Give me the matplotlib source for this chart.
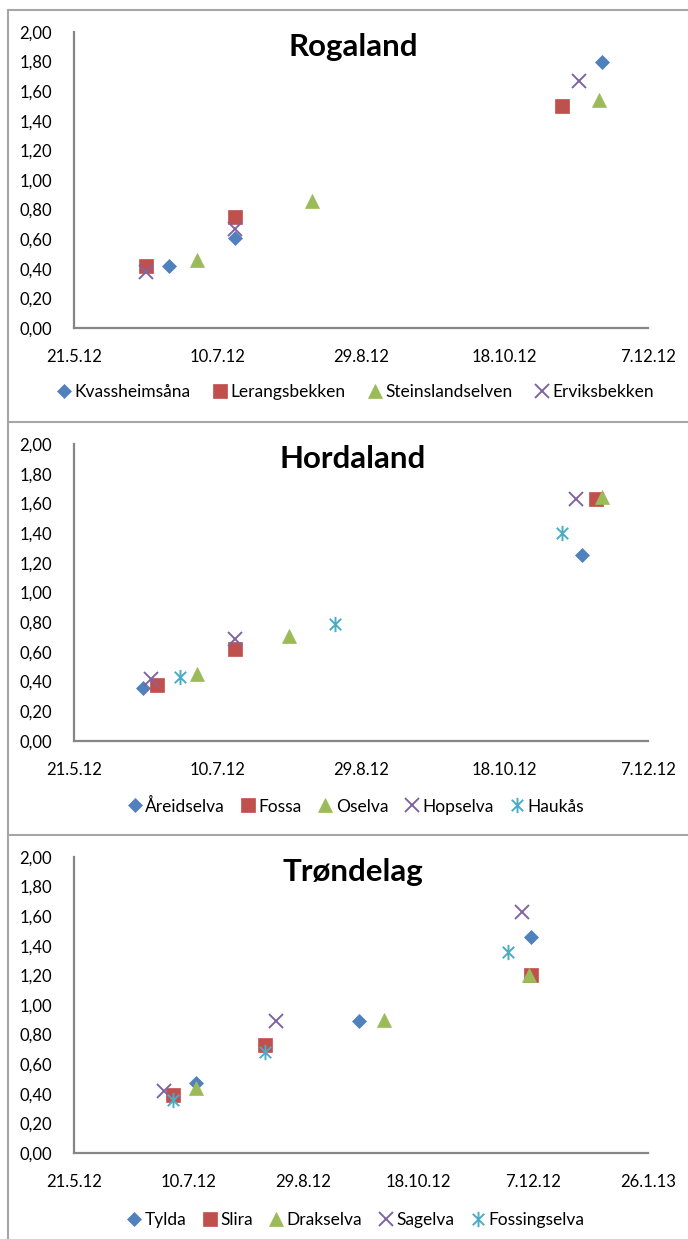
import numpy as np
import pandas as pd
import matplotlib
matplotlib.use('Agg')
import matplotlib.pyplot as plt
import matplotlib.dates as mdate
from matplotlib.path import Path
from matplotlib.lines import Line2D

plt.rcParams['font.family'] = ['Lato', 'DejaVu Sans']

# Rogaland
rog_names = ['Kvassheimsåna', 'Lerangsbekken', 'Steinslandselven', 'Erviksbekken']
rog_dates = [['2012-06-23', '2012-07-16', '2012-11-21'],
             ['2012-06-15', '2012-07-16', '2012-11-07'],
             ['2012-07-03', '2012-08-12', '2012-11-20'],
             ['2012-06-15', '2012-07-16', '2012-11-13']]
rog_vals = [[0.42, 0.61, 1.80],
            [0.42, 0.75, 1.50],
            [0.46, 0.86, 1.54],
            [0.38, 0.67, 1.67]]

# Hordaland
hor_names = ['Åreidselva', 'Fossa', 'Oselva', 'Hopselva', 'Haukås']
hor_dates = [['2012-06-14', '2012-11-14'],
             ['2012-06-19', '2012-07-16', '2012-11-19'],
             ['2012-07-03', '2012-08-04', '2012-11-21'],
             ['2012-06-17', '2012-07-16', '2012-11-12'],
             ['2012-06-27', '2012-08-20', '2012-11-07']]
hor_vals = [[0.36, 1.25],
            [0.38, 0.62, 1.63],
            [0.45, 0.71, 1.64],
            [0.42, 0.69, 1.63],
            [0.43, 0.79, 1.40]]

# Trøndelag
tro_names = ['Tylda', 'Slira', 'Drakselva', 'Sagelva', 'Fossingselva']
tro_dates = [['2012-07-13', '2012-09-22', '2012-12-06'],
             ['2012-07-03', '2012-08-12', '2012-12-06'],
             ['2012-07-13', '2012-10-03', '2012-12-05'],
             ['2012-06-29', '2012-08-17', '2012-12-02'],
             ['2012-07-03', '2012-08-12', '2012-11-26']]
tro_vals = [[0.47, 0.89, 1.46],
            [0.39, 0.73, 1.20],
            [0.44, 0.90, 1.20],
            [0.42, 0.89, 1.63],
            [0.36, 0.68, 1.36]]

colors = ['#4F81BD', '#C0504D', '#9BBB59', '#8064A2', '#4BACC6']
star = Path([(0, -1), (0, 1), (-0.75, -0.75), (0.75, 0.75), (-0.75, 0.75), (0.75, -0.75)],
            [Path.MOVETO, Path.LINETO, Path.MOVETO, Path.LINETO, Path.MOVETO, Path.LINETO])
markers = [('D', 7.2), ('s', 9.5), ('^', 10), ('x', 9.5), (star, 11)]

fig = plt.figure(figsize=(6.88, 12.39), dpi=100)

# panel frames
gray = '#A6A6A6'
W, H = 688, 1239
def fline(x0, y0, x1, y1):
    fig.add_artist(Line2D([x0 / W, x1 / W], [1 - y0 / H, 1 - y1 / H], color=gray, lw=1.5))
fline(8, 10, 8, 1239)
for yy in [10, 422, 835]:
    fline(8, yy, 688, yy)


def fmt_date(x, pos=None):
    d = mdate.num2date(x)
    return '%d.%d.%02d' % (d.day, d.month, d.year % 100)


def panel(rect, title, names, dates, vals, start, end, legy, colsp):
    ax = fig.add_axes(rect)
    for i, name in enumerate(names):
        m, ms = markers[i]
        x = pd.to_datetime(dates[i])
        ax.plot(x, vals[i], linestyle='none', marker=m, ms=ms, color=colors[i],
                mec=colors[i], mew=1.4 if i >= 3 else 0.5, label=name)
    t0 = pd.Timestamp(start)
    t1 = pd.Timestamp(end)
    ticks = pd.date_range(t0, t1, freq='50D')
    ax.set_xlim(t0, t1)
    ax.set_xticks(ticks)
    ax.xaxis.set_major_formatter(plt.FuncFormatter(fmt_date))
    ax.set_ylim(0, 2)
    yt = np.arange(0, 2.01, 0.2)
    ax.set_yticks(yt)
    ax.set_yticklabels([('%.2f' % v).replace('.', ',') for v in yt])
    ax.tick_params(length=0, labelsize=12, colors='black')
    ax.tick_params(axis='x', pad=15)
    ax.tick_params(axis='y', pad=16)
    ax.spines['right'].set_visible(False)
    ax.spines['top'].set_visible(False)
    for s in ['left', 'bottom']:
        ax.spines[s].set_color('#868686')
        ax.spines[s].set_linewidth(1.6)
    ax.text(0.486, 0.948, title, transform=ax.transAxes, ha='center', va='center',
            fontsize=22.5, fontweight='bold')
    fig.legend(loc='center', bbox_to_anchor=(0.517, legy), ncol=len(names), frameon=False,
               handlelength=0.8, handletextpad=0.2, columnspacing=colsp, fontsize=12.5,
               borderaxespad=0, handles=ax.get_legend_handles_labels()[0])
    return ax


panel([74 / W, 1 - 328 / H, 574 / W, 296 / H], 'Rogaland', rog_names, rog_dates, rog_vals,
      '2012-05-21', '2012-12-07', 1 - 392 / H, 1.3)
panel([74 / W, 1 - 741 / H, 574 / W, 297 / H], 'Hordaland', hor_names, hor_dates, hor_vals,
      '2012-05-21', '2012-12-07', 1 - 806 / H, 0.95)
panel([74 / W, 1 - 1153 / H, 574 / W, 296 / H], 'Trøndelag', tro_names, tro_dates, tro_vals,
      '2012-05-21', '2013-01-26', 1 - 1220 / H, 0.95)

fig.savefig('out.png', dpi=100)
